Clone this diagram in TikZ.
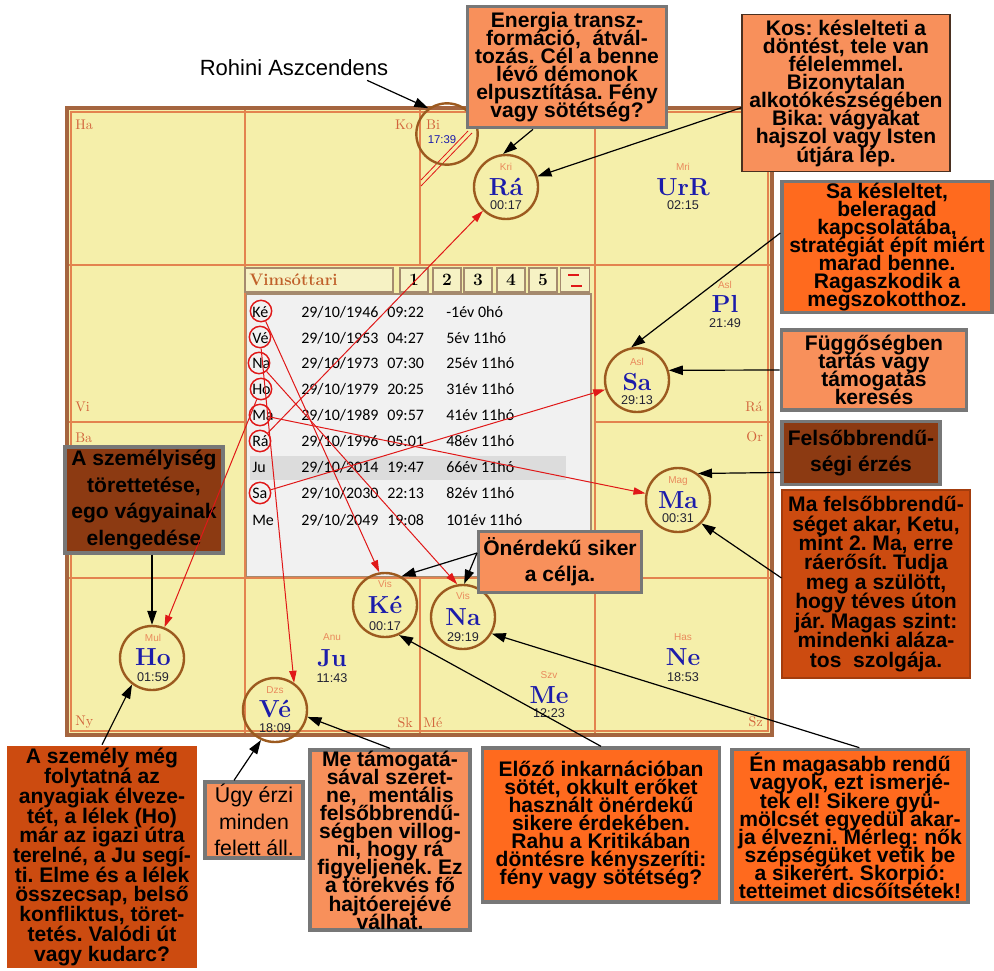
\documentclass[tikz,border=0pt]{standalone}
\usepackage{fontspec}
\setsansfont{Liberation Sans}
\newfontfamily\tabfont{Carlito}
\usetikzlibrary{arrows.meta}
\frenchspacing
\lineskiplimit=-20pt

\definecolor{chartbg}{HTML}{F5EFAA}
\definecolor{gridc}{HTML}{E3834F}
\definecolor{borderc}{HTML}{A5653F}
\definecolor{cellc}{HTML}{D2643C}
\definecolor{nakc}{HTML}{E98A5C}
\definecolor{planc}{HTML}{1C1CAA}
\definecolor{timec}{HTML}{222233}
\definecolor{ringc}{HTML}{9C5A1F}
\definecolor{redc}{HTML}{E01818}
\definecolor{tabbg}{HTML}{F1F1F1}
\definecolor{rowhl}{HTML}{DCDCDC}
\definecolor{btnbg}{HTML}{F6F2C4}
\definecolor{btnline}{HTML}{A58A6E}
\definecolor{vimc}{HTML}{C0602A}
\definecolor{salmon}{HTML}{F8905B}
\definecolor{brightor}{HTML}{FF6A1E}
\definecolor{darkor}{HTML}{CC4B10}
\definecolor{brownbox}{HTML}{8C3A12}
\definecolor{boxline}{HTML}{777777}
\definecolor{kosline}{HTML}{4A3020}

\begin{document}
\begin{tikzpicture}[x=0.75pt,y=-0.75pt,
    cellbl/.style={font=\fontsize{10.5}{10.5}\selectfont,text=cellc,inner sep=0pt},
    nak/.style={font=\sffamily\fontsize{7.5}{7.5}\selectfont,text=nakc,inner sep=0pt},
    pname/.style={font=\bfseries\fontsize{18.5}{18.5}\selectfont,text=planc,inner sep=0pt},
    ptime/.style={font=\sffamily\fontsize{9.5}{9.5}\selectfont,text=timec,inner sep=0pt},
    pring/.style={circle,draw=ringc,line width=1.8pt,minimum size=48pt,inner sep=0pt},
    tring/.style={circle,draw=redc,line width=1.1pt,minimum size=16pt,inner sep=0pt},
    trow/.style={font=\tabfont\fontsize{12}{12}\selectfont,anchor=west,inner sep=0pt},
    btn/.style={draw=btnline,line width=1.2pt,fill=btnbg,minimum width=21pt,minimum height=18pt,inner sep=0pt,font=\bfseries\fontsize{13}{13}\selectfont},
    notebox/.style={draw=boxline,line width=2.5pt,align=center,inner sep=0pt,font=\sffamily\bfseries\fontsize{15.8}{13.6}\selectfont},
    loosebox/.style={font=\sffamily\bfseries\fontsize{15.8}{19.5}\selectfont},
    blkarr/.style={-{Triangle[length=10.5pt,width=7pt]},line width=0.9pt},
    redarr/.style={-{Triangle[length=9pt,width=5.5pt]},line width=0.75pt,redc}
]
\useasboundingbox (0,0) rectangle (994,970);

% chart
\fill[chartbg] (67,108) rectangle (772,735);
\fill[tabbg] (246,294) rectangle (591,577);
\fill[rowhl] (250,456) rectangle (566,480);
\draw[btnline,line width=1.2pt] (246,294) rectangle (591,577);
\draw[gridc,line width=1.2pt] (245,108) -- (245,735);
\draw[gridc,line width=1.2pt] (420,108) -- (420,265) (420,578) -- (420,735);
\draw[gridc,line width=1.2pt] (595,108) -- (595,735);
\draw[gridc,line width=1.2pt] (67,265) -- (772,265) (67,578) -- (772,578);
\draw[gridc,line width=1.2pt] (67,422) -- (245,422) (595,422) -- (772,422);
\draw[borderc,line width=2.5pt] (67,108) rectangle (772,735);
\draw[gridc,line width=0.9pt] (71,112) rectangle (768,731);

\node[cellbl,anchor=west] (ha) at (75,125) {Ha};
\node[cellbl,anchor=east] (ko) at (413,125) {Ko};
\node[cellbl,anchor=west] (vi) at (75,407) {Vi};
\node[cellbl,anchor=east] (rah) at (763,407) {Rá};
\node[cellbl,anchor=west] (ba) at (75,438) {Ba};
\node[cellbl,anchor=east] (or) at (763,437) {Or};
\node[cellbl,anchor=west] (ny) at (75,722) {Ny};
\node[cellbl,anchor=east] (sk) at (413,723) {Sk};
\node[cellbl,anchor=west] (me) at (423,723) {Mé};
\node[cellbl,anchor=east] (sz) at (763,722) {Sz};

\draw[redc,line width=0.6pt] (421,186) -- (472,133);
\draw[redc,line width=0.6pt] (421,180) -- (468,131);

% table header
\node[btn,minimum width=111pt] (vimbox) at (319,280) {};
\node[anchor=west,inner sep=0pt,text=vimc,font=\bfseries\fontsize{12.5}{12.5}\selectfont] (vimtxt) at (249,280) {Vimsóttari};
\foreach \n/\x in {1/414,2/447,3/478,4/511,5/543}
    \node[btn] (b\n) at (\x,280) {\n};
\node[btn,minimum width=22pt] (flags) at (575,280) {};
\draw[redc,line width=1.4pt] (568,275) -- (579,275);
\draw[redc,line width=1.4pt] (571,286) -- (582,286);

% table rows
\node[trow] (n1) at (252,312) {Ké};
\node[trow] (d1) at (301,312) {29/10/1946};
\node[trow] (h1) at (387,312) {09:22};
\node[trow] (a1) at (446,312) {-1év 0hó};
\node[trow] (n2) at (252,338) {Vé};
\node[trow] (d2) at (301,338) {29/10/1953};
\node[trow] (h2) at (387,338) {04:27};
\node[trow] (a2) at (446,338) {5év 11hó};
\node[trow] (n3) at (252,363) {Na};
\node[trow] (d3) at (301,363) {29/10/1973};
\node[trow] (h3) at (387,363) {07:30};
\node[trow] (a3) at (446,363) {25év 11hó};
\node[trow] (n4) at (252,389) {Ho};
\node[trow] (d4) at (301,389) {29/10/1979};
\node[trow] (h4) at (387,389) {20:25};
\node[trow] (a4) at (446,389) {31év 11hó};
\node[trow] (n5) at (252,415) {Ma};
\node[trow] (d5) at (301,415) {29/10/1989};
\node[trow] (h5) at (387,415) {09:57};
\node[trow] (a5) at (446,415) {41év 11hó};
\node[trow] (n6) at (252,441) {Rá};
\node[trow] (d6) at (301,441) {29/10/1996};
\node[trow] (h6) at (387,441) {05:01};
\node[trow] (a6) at (446,441) {48év 11hó};
\node[trow] (n7) at (252,467) {Ju};
\node[trow] (d7) at (301,467) {29/10/2014};
\node[trow] (h7) at (387,467) {19:47};
\node[trow] (a7) at (446,467) {66év 11hó};
\node[trow] (n8) at (252,493) {Sa};
\node[trow] (d8) at (301,493) {29/10/2030};
\node[trow] (h8) at (387,493) {22:13};
\node[trow] (a8) at (446,493) {82év 11hó};
\node[trow] (n9) at (252,520) {Me};
\node[trow] (d9) at (301,520) {29/10/2049};
\node[trow] (h9) at (387,520) {19:08};
\node[trow] (a9) at (446,520) {101év 11hó};

\node[tring] (tKe) at (261,311) {};
\node[tring] (tVe) at (260,337) {};
\node[tring] (tNa) at (259,363) {};
\node[tring] (tHo) at (261,389) {};
\node[tring] (tMa) at (260,415) {};
\node[tring] (tRa) at (260,441) {};
\node[tring] (tSa) at (260,493) {};

% planets
\node[pring,minimum size=46pt] (biC) at (447,134) {};
\node[cellbl] (biN) at (433,125) {Bi};
\node[ptime,text=planc,font=\sffamily\fontsize{8.5}{8.5}\selectfont] (biT) at (442,140) {17:39};

\node[pring] (raC) at (506,187) {};
\node[nak] (raN) at (506,167) {Kri};
\node[pname] (raP) at (506,187) {Rá};
\node[ptime] (raT) at (506,205) {00:17};

\node[nak] (urN) at (683,167) {Mri};
\node[pname] (urP) at (683,187) {UrR};
\node[ptime] (urT) at (683,205) {02:15};

\node[nak] (plN) at (725,285) {Asl};
\node[pname] (plP) at (725,304) {Pl};
\node[ptime] (plT) at (725,323) {21:49};

\node[pring] (saC) at (637,380) {};
\node[nak] (saN) at (637,362) {Asl};
\node[pname] (saP) at (637,382) {Sa};
\node[ptime] (saT) at (637,400) {29:13};

\node[pring] (maC) at (678,500) {};
\node[nak] (maN) at (678,481) {Mag};
\node[pname] (maP) at (678,500) {Ma};
\node[ptime] (maT) at (678,518) {00:31};

\node[nak] (neN) at (683,637) {Has};
\node[pname] (neP) at (683,657) {Ne};
\node[ptime] (neT) at (683,677) {18:53};

\node[nak] (meN) at (549,675) {Szv};
\node[pname] (meP) at (549,695) {Me};
\node[ptime] (meT) at (549,713) {12:23};

\node[pring] (naC) at (463,617) {};
\node[nak] (naN) at (463,596) {Vis};
\node[pname] (naP) at (463,617) {Na};
\node[ptime] (naT) at (463,637) {29:19};

\node[pring] (keC) at (385,605) {};
\node[nak] (keN) at (385,584) {Vis};
\node[pname] (keP) at (385,605) {Ké};
\node[ptime] (keT) at (385,626) {00:17};

\node[nak] (juN) at (332,637) {Anu};
\node[pname] (juP) at (332,658) {Ju};
\node[ptime] (juT) at (332,678) {11:43};

\node[pring] (veC) at (275,710) {};
\node[nak] (veN) at (275,690) {Dzs};
\node[pname] (veP) at (275,709) {Vé};
\node[ptime] (veT) at (275,728) {18:09};

\node[pring] (hoC) at (152,658) {};
\node[nak] (hoN) at (153,638) {Mul};
\node[pname] (hoP) at (153,657) {Ho};
\node[ptime] (hoT) at (153,677) {01:59};

% notes
\node[inner sep=0pt,font=\sffamily\fontsize{16.5}{16.5}\selectfont] (rohini) at (294,68) {Rohini Aszcendens};

\node[notebox,fill=salmon,minimum width=149pt,minimum height=91pt] (energia) at (567,67)
    {Energia transz-\\formáció, \ átvál-\\tozás. Cél a benne\\lévő démonok\\elpusztítása. Fény\\vagy sötétség?};
\node[notebox,fill=salmon,draw=kosline,line width=1pt,minimum width=156pt,minimum height=118pt] (kos) at (846,93)
    {Kos: késlelteti a\\döntést, tele van\\félelemmel.\\Bizonytalan\\alkotókészségében\\Bika: vágyakat\\hajszol vagy Isten\\útjára lép.};
\node[notebox,fill=brightor,minimum width=157.5pt,minimum height=98pt] (sabox) at (887,247)
    {Sa késleltet,\\beleragad\\kapcsolatába,\\stratégiát épít miért\\marad benne.\\Ragaszkodik a\\megszokotthoz.};
\node[notebox,fill=salmon,minimum width=139pt,minimum height=60pt] (fugg) at (874,370)
    {Függőségben\\tartás vagy\\támogatás\\keresés};
\node[notebox,loosebox,fill=brownbox,minimum width=118.5pt,minimum height=47pt] (felso) at (861,453)
    {Felsőbbrendű-\\ségi érzés};
\node[notebox,fill=darkor,draw=darkor!80!black,line width=0.8pt,font=\sffamily\bfseries\fontsize{15.8}{14.6}\selectfont,minimum width=141pt,minimum height=141pt] (mabox) at (876,584)
    {Ma felsőbbrendű-\\séget akar, Ketu,\\mint 2. Ma, erre\\ráerősít. Tudja\\meg a szülött,\\hogy téves úton\\jár. Magas szint:\\mindenki aláza-\\tos \ szolgája.};
\node[notebox,loosebox,fill=brownbox,font=\sffamily\bfseries\fontsize{15.8}{20}\selectfont,minimum width=118.5pt,minimum height=79.5pt] (szem) at (144,500)
    {A személyiség\\törettetése,\\ego vágyainak\\elengedése};
\node[notebox,loosebox,fill=salmon,minimum width=122pt,minimum height=46pt] (onerd) at (560,562)
    {Önérdekű siker\\a célja.};
\node[notebox,fill=darkor,draw=none,font=\sffamily\bfseries\fontsize{15.8}{14.8}\selectfont,minimum width=142pt,minimum height=166pt] (szemely) at (102,857)
    {A személy még\\folytatná az\\anyagiak élveze-\\tét, a lélek (Ho)\\már az igazi útra\\terelné, a Ju segí-\\ti. Elme és a lélek\\összecsap, belső\\konfliktus, töret-\\tetés. Valódi út\\vagy kudarc?};
\node[notebox,fill=salmon,font=\sffamily\fontsize{16}{20}\selectfont,minimum width=73.5pt,minimum height=57pt] (ugy) at (254,820)
    {Úgy érzi\\minden\\felett áll.};
\node[notebox,fill=salmon,minimum width=120pt,minimum height=135pt] (metam) at (390,840)
    {Me támogatá-\\sával szeret-\\ne, \ mentális\\felsőbbrendű-\\ségben villog-\\ni, hogy rá\\figyeljenek. Ez\\a törekvés fő\\hajtóerejévé\\válhat.};
\node[notebox,fill=brightor,minimum width=178pt,minimum height=115.5pt] (elozo) at (601,825)
    {Előző inkarnációban\\sötét, okkult erőket\\használt önérdekű\\sikere érdekében.\\Rahu a Kritikában\\döntésre kényszeríti:\\fény vagy sötétség?};
\node[notebox,fill=brightor,minimum width=177pt,minimum height=115pt] (en) at (850,826)
    {Én magasabb rendű\\vagyok, ezt ismerjé-\\tek el! Sikere gyü-\\mölcsét egyedül akar-\\ja élvezni. Mérleg: nők\\szépségüket vetik be\\a sikerért. Skorpió:\\tetteimet dicsőítsétek!};

% dasa arrows
\draw[redarr] (tKe) -- (keC.100);
\draw[redarr] (tVe) -- (veC.55);
\draw[redarr] (tNa) -- (naC.100);
\draw[redarr] (tHo) -- (hoC);
\draw[redarr] (tMa) -- (maC);
\draw[redarr] (tRa) -- (raC);
\draw[redarr] (tSa) -- (saC);

% note arrows
\draw[blkarr] ([xshift=-16pt,yshift=-3pt]rohini.south east) -- (biC.126);
\draw[blkarr] ([xshift=-25.5pt]energia.south) -- (raC.95);
\draw[blkarr] ([yshift=-11pt]kos.west) -- (raC);
\draw[blkarr] ([yshift=10.5pt]sabox.west) -- (saC.100);
\draw[blkarr] (fugg.west) -- (saC.17);
\draw[blkarr] ([yshift=-14.6pt]felso.west) -- (maC.53);
\draw[blkarr] ([yshift=4.5pt]mabox.west) -- (maC.-45);
\draw[blkarr] (szem.south -| hoC) -- (hoC);
\draw[blkarr] ([yshift=6.75pt]onerd.west) -- (keC.60);
\draw[blkarr] ([yshift=6.75pt]onerd.west) -- (naC.88);
\draw[blkarr] (szemely.north) -- (hoC.233);
\draw[blkarr] ([xshift=-15pt]ugy.north) -- (veC.-115);
\draw[blkarr] (metam.north) -- (veC.-12);
\draw[blkarr] (elozo.north) -- (keC.-65);
\draw[blkarr] ([xshift=7pt]en.north) -- (naC.-30);
\end{tikzpicture}
\end{document}
